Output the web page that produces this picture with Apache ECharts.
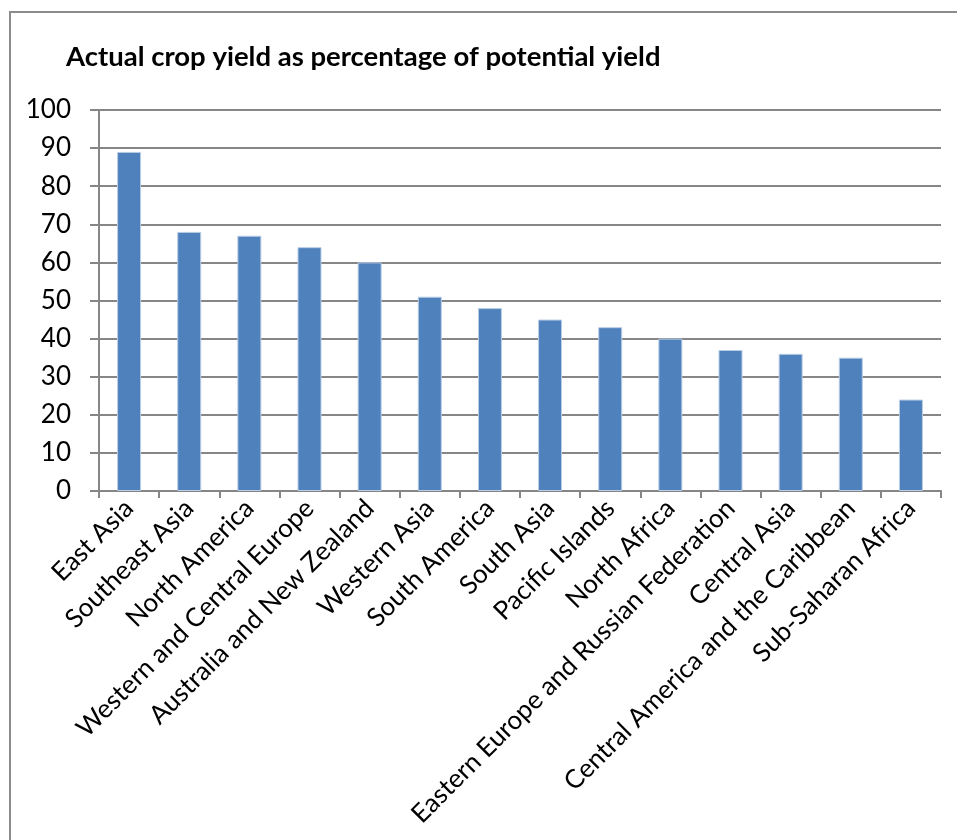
<!DOCTYPE html>
<html><head><meta charset="utf-8">
<script src="https://cdn.jsdelivr.net/npm/echarts@6/dist/echarts.min.js"></script>
<style>html,body{margin:0;padding:0;background:#fff}#c{width:957px;height:840px}</style>
</head><body><div id="c"></div>
<script>
const title = 'Actual crop yield as percentage of potential yield';
const categories = ['East Asia','Southeast Asia','North America','Western and Central Europe','Australia and New Zealand','Western Asia','South America','South Asia','Pacific Islands','North Africa','Eastern Europe and Russian Federation','Central Asia','Central America and the Caribbean','Sub-Saharan Africa'];
const values = [89,68,67,64,60,51,48,45,43,40,37,36,35,24];
const yTicks = {min:0, max:100, interval:10};

const chart = echarts.init(document.getElementById('c'));
chart.setOption({
  animation:false,
  backgroundColor:'#fff',
  graphic:[{type:'rect', shape:{x:10,y:12,width:960,height:840}, style:{fill:'none', stroke:'#8c8c8c', lineWidth:2}}],
  title:{text:title, left:61, top:38, textStyle:{fontFamily:'Lato', fontWeight:'bold', fontSize:27.5, color:'#000'}},
  grid:{left:99, right:16, top:110, bottom:349, containLabel:false},
  xAxis:{type:'category', data:categories,
    axisLine:{lineStyle:{color:'#868686', width:2}},
    axisTick:{show:true, length:7, lineStyle:{color:'#868686', width:2}},
    axisLabel:{rotate:45, interval:0, margin:13, fontFamily:'Lato', fontSize:26, color:'#000'}},
  yAxis:{type:'value', min:yTicks.min, max:yTicks.max, interval:yTicks.interval,
    axisLine:{show:true, lineStyle:{color:'#868686', width:2}},
    axisTick:{show:true, length:9, lineStyle:{color:'#868686', width:2}},
    splitLine:{lineStyle:{color:'#868686', width:2}},
    axisLabel:{margin:28, fontFamily:'Lato', fontSize:26, color:'#000'}},
  series:[{type:'bar', data:values, barWidth:24,
    itemStyle:{color:'#4F81BD', borderColor:'#B9CDE5', borderWidth:1}}]
});
</script></body></html>
